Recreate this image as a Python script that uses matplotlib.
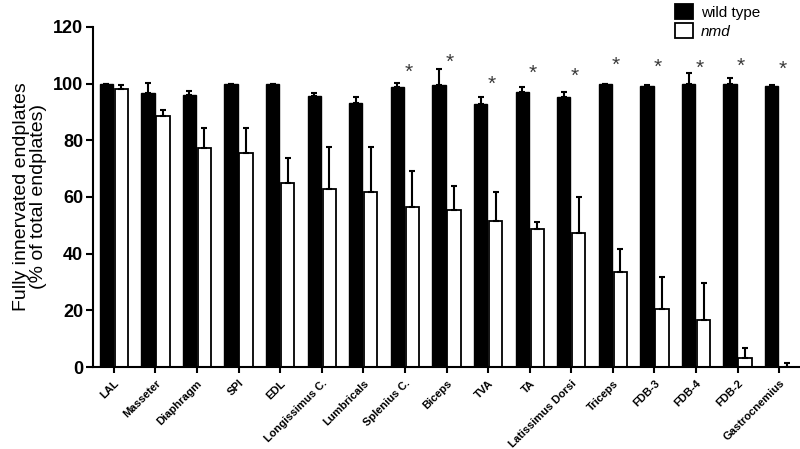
import matplotlib
matplotlib.use("Agg")
import matplotlib.pyplot as plt
from matplotlib.patches import Patch
import numpy as np

plt.rcParams['font.family'] = ['Liberation Sans', 'DejaVu Sans']

muscles = ["LAL", "Masseter", "Diaphragm", "SPI", "EDL", "Longissimus C.", "Lumbricals",
           "Splenius C.", "Biceps", "TVA", "TA", "Latissimus Dorsi", "Triceps",
           "FDB-3", "FDB-4", "FDB-2", "Gastrocnemius"]
wt = [100, 96.7, 95.9, 99.8, 100, 95.8, 93.2, 98.9, 99.5, 92.9, 96.9, 95.4, 100, 99.2, 99.8, 99.8, 99.2]
wt_err = [0, 3.4, 1.4, 0.2, 0, 0.9, 2.1, 1.2, 5.7, 2.3, 1.9, 1.8, 0, 0.2, 4.0, 2.3, 0.3]
nmd = [98.1, 88.6, 77.2, 75.5, 65.0, 62.7, 61.7, 56.3, 55.3, 51.4, 48.7, 47.3, 33.6, 20.3, 16.5, 3.3, 0]
nmd_err = [1.3, 2.0, 7.0, 8.9, 8.8, 14.8, 15.9, 12.9, 8.5, 10.4, 2.4, 12.8, 8.1, 11.4, 13.3, 3.4, 1.3]
star_idx = [7, 8, 9, 10, 11, 12, 13, 14, 15, 16]
star_y = [105, 108.5, 100.9, 104.5, 103.6, 107.6, 106.7, 106.5, 107.1, 105.9]
yticks = [0, 20, 40, 60, 80, 100, 120]

fig = plt.figure(figsize=(8, 4.49), dpi=100)
ax = fig.add_axes([0.11625, 0.1826, 0.88375, 0.7573])

x = np.arange(len(muscles))
w = 0.32
off = 0.18
ekw = dict(elinewidth=1.5, capthick=1.5, ecolor='black')
ax.bar(x - off, wt, w, color='black', edgecolor='black', linewidth=1.0,
       yerr=[np.zeros(len(wt)), wt_err], capsize=2.5, error_kw=ekw, zorder=2)
ax.bar(x + off, nmd, w, color='white', edgecolor='black', linewidth=1.3,
       yerr=[np.zeros(len(nmd)), nmd_err], capsize=2.5, error_kw=ekw, zorder=2)

for i, yv in zip(star_idx, star_y):
    ax.text(i + 0.08, yv - 1.0, "*", ha='center', va='center', fontsize=15, color='#3a3a3a')

ax.set_xlim(-0.5, 16.5)
ax.set_ylim(0, 120)
ax.set_yticks(yticks)
ax.set_yticklabels([str(t) for t in yticks], fontsize=13, fontweight='bold')
ax.set_xticks(x)
ax.set_xticklabels(muscles, rotation=45, ha='right', rotation_mode='anchor',
                   fontsize=8, fontweight='bold')
ax.tick_params(axis='x', length=4, width=1.5, direction='out', pad=4)
ax.tick_params(axis='y', length=5, width=1.5, direction='out', pad=2)
for s in ['top', 'right']:
    ax.spines[s].set_visible(False)
for s in ['left', 'bottom']:
    ax.spines[s].set_linewidth(1.5)

ax.set_ylabel("Fully innervated endplates\n(% of total endplates)", fontsize=14,
              linespacing=1.0, labelpad=4)

handles = [Patch(facecolor='black', edgecolor='black', linewidth=1.3),
           Patch(facecolor='white', edgecolor='black', linewidth=1.3)]
leg = fig.legend(handles, ["wild type", "nmd"], loc='upper left',
                 bbox_to_anchor=(0.842, 0.995), frameon=False, fontsize=11,
                 handlelength=1.2, handleheight=1.2, labelspacing=0.2,
                 handletextpad=0.5, borderaxespad=0, borderpad=0.1)
leg.get_texts()[1].set_style('italic')

fig.savefig("out.png", dpi=100)
